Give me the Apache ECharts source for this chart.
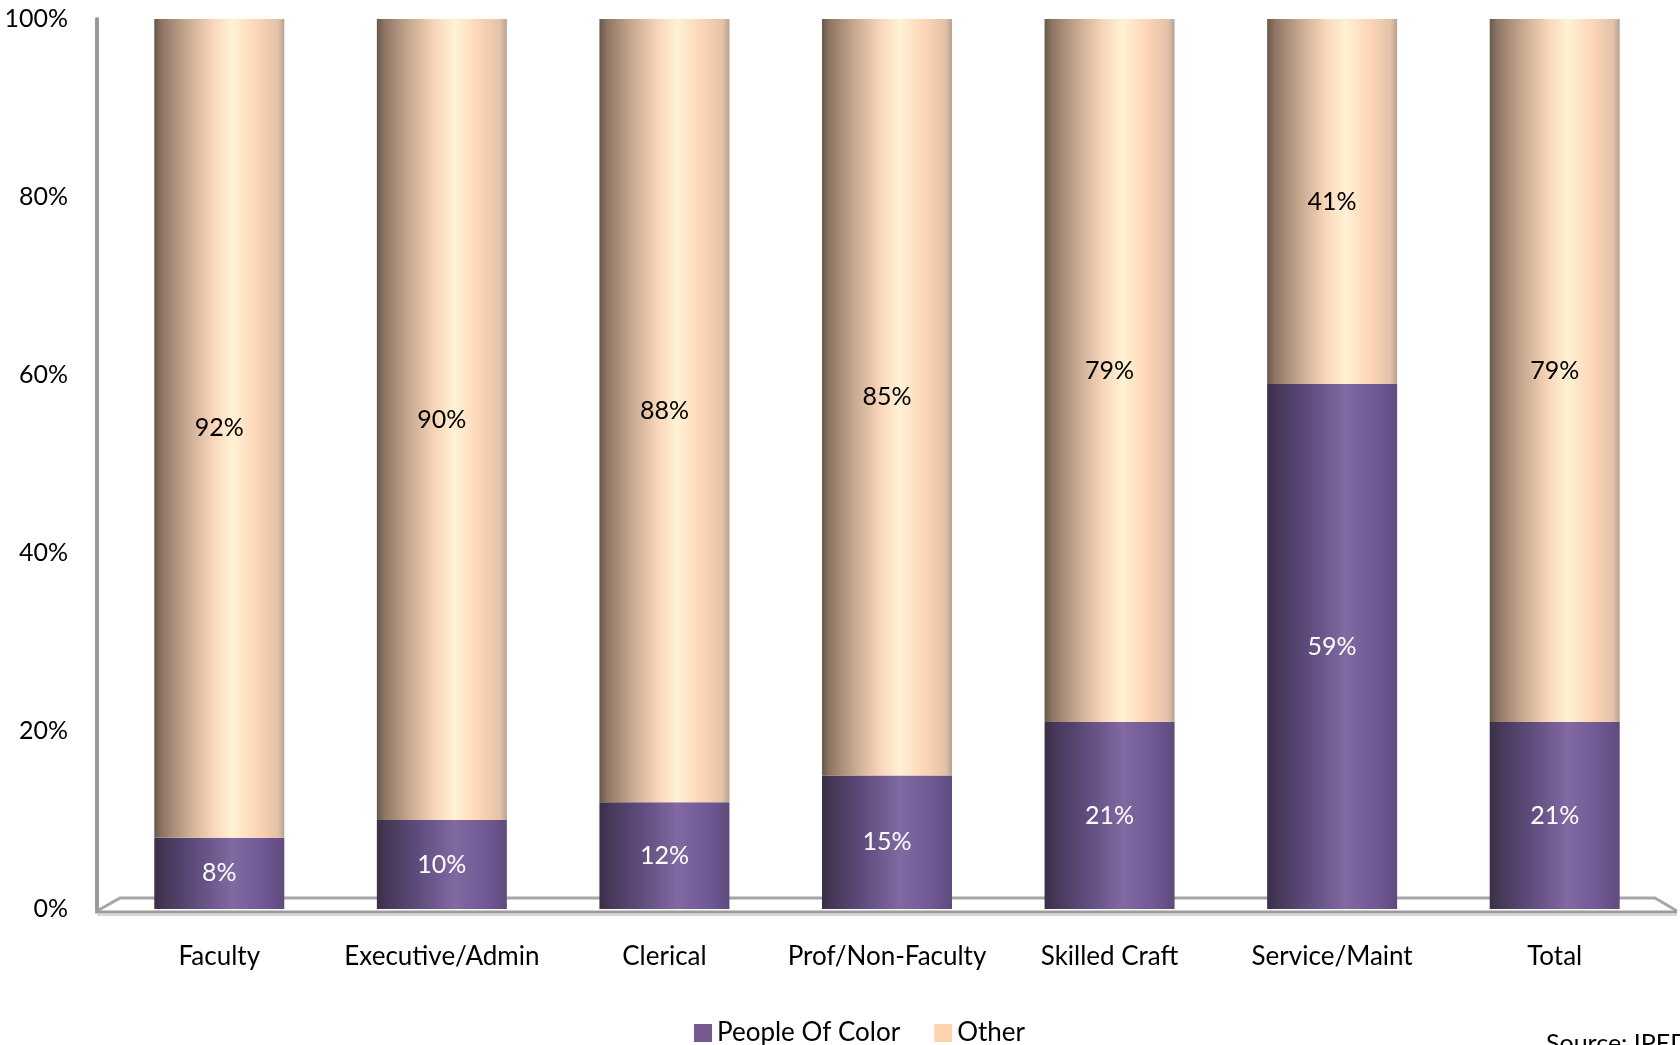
<!DOCTYPE html>
<html><head><meta charset="utf-8">
<script src="https://cdn.jsdelivr.net/npm/echarts@6/dist/echarts.min.js"></script>
<style>html,body{margin:0;padding:0;background:#fff}#c{width:1680px;height:1045px}</style>
</head><body><div id="c"></div>
<script>
const categories = ['Faculty','Executive/Admin','Clerical','Prof/Non-Faculty','Skilled Craft','Service/Maint','Total'];
const peopleOfColor = [8,10,12,15,21,59,21];
const other = [92,90,88,85,79,41,79];
const yTicks = [0,20,40,60,80,100];

const FONT = 'Lato';
const purpleGrad = {type:'linear',x:0,y:0,x2:1,y2:0,colorStops:[
  {offset:0,color:'#3a2e48'},{offset:0.08,color:'#463857'},{offset:0.3,color:'#5d4a7b'},
  {offset:0.6,color:'#8169a2'},{offset:0.85,color:'#6f5893'},{offset:1,color:'#5f4b7d'}]};
const peachGrad = {type:'linear',x:0,y:0,x2:1,y2:0,colorStops:[
  {offset:0,color:'#6a594b'},{offset:0.06,color:'#8e7665'},{offset:0.25,color:'#c7a88f'},
  {offset:0.45,color:'#f9d6b9'},{offset:0.6,color:'#fff2d4'},{offset:0.8,color:'#fcd3b4'},
  {offset:0.95,color:'#e2c2a8'},{offset:1,color:'#b9a18e'}]};

const chart = echarts.init(document.getElementById('c'));
chart.setOption({
  animation:false,
  grid:{left:108,right:14,top:19,bottom:136,containLabel:false},
  legend:{left:689,top:1015,itemWidth:18,itemHeight:18,itemGap:34,icon:'rect',
    textStyle:{fontFamily:FONT,fontSize:26,color:'#000'},
    data:[{name:'People Of Color',itemStyle:{color:'#76598f'}},{name:'Other',itemStyle:{color:'#fdd4b0'}}]},
  title:{text:'Source: IPEDS',left:1541,top:1026,textStyle:{fontFamily:FONT,fontSize:25,fontWeight:'normal',color:'#000'}},
  xAxis:{type:'category',data:categories,axisLine:{show:false},axisTick:{show:false},
    axisLabel:{interval:0,fontFamily:FONT,fontSize:26,color:'#000',margin:35}},
  yAxis:{type:'value',min:0,max:100,interval:20,offset:11,
    axisLine:{show:true,lineStyle:{color:'#999',width:4}},axisTick:{show:false},splitLine:{show:false},
    axisLabel:{fontFamily:FONT,fontSize:25,color:'#000',margin:29,formatter:v=>yTicks.includes(v)?v+'%':''}},
  series:[
    {name:'People Of Color',type:'bar',stack:'s',barWidth:130,data:peopleOfColor,
      itemStyle:{color:purpleGrad},
      label:{show:true,position:'inside',formatter:'{c}%',fontFamily:FONT,fontSize:25,color:'#fff'}},
    {name:'Other',type:'bar',stack:'s',barWidth:130,data:other,
      itemStyle:{color:peachGrad},
      label:{show:true,position:'inside',formatter:'{c}%',fontFamily:FONT,fontSize:25,color:'#000'}}
  ]
});
const y0 = chart.convertToPixel({yAxisIndex:0},0);
const xL = 97, xR = 1677;
chart.setOption({graphic:[
  {type:'polyline',silent:true,z:-1,shape:{points:[[xL,y0+2],[xL+23,y0-11],[xR-22,y0-11],[xR,y0+2]]},
    style:{stroke:'#a6a6a6',lineWidth:3,fill:null}},
  {type:'line',silent:true,z:-1,shape:{x1:xL-2,y1:y0+3,x2:xR,y2:y0+3},style:{stroke:'#9c9c9c',lineWidth:3}},
  {type:'line',silent:true,z:-1,shape:{x1:xL,y1:y0+6,x2:xR,y2:y0+6},style:{stroke:'#d8d8d8',lineWidth:2}}
]});
</script></body></html>
